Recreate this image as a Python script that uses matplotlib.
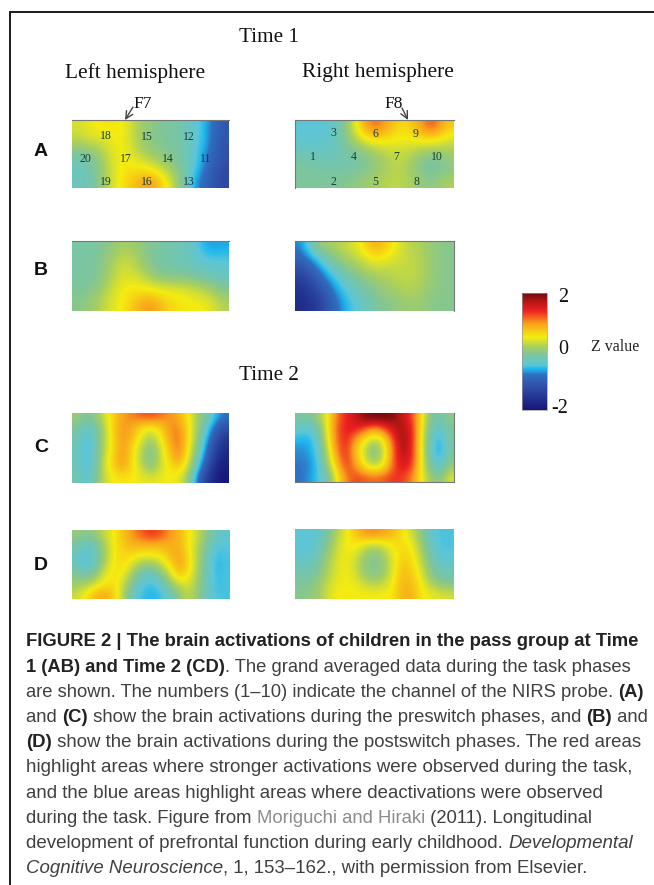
"""Brain activation maps, Time 1 and Time 2, with caption."""

import matplotlib
matplotlib.use('Agg')
import matplotlib.pyplot as plt
from matplotlib.colors import LinearSegmentedColormap, Normalize
from matplotlib.cm import ScalarMappable
from matplotlib.lines import Line2D

W, H = 654, 885

# z values, rows top to bottom, columns left to right
a_left = [
    [0.35, 0.50, 0.55, 0.55, 0.20, 0.00, -0.10, -0.20, -0.35, -0.65, -1.10],
    [0.25, 0.35, 0.40, 0.55, 0.20, -0.05, -0.10, -0.15, -0.35, -0.65, -1.15],
    [-0.15, -0.05, 0.30, 0.55, 0.30, 0.10, -0.05, -0.15, -0.40, -0.75, -1.20],
    [-0.30, -0.20, 0.25, 0.55, 0.55, 0.45, 0.20, -0.05, -0.40, -0.85, -1.25],
    [-0.30, -0.20, 0.25, 0.55, 0.80, 1.05, 0.60, 0.05, -0.60, -1.00, -1.30],
]
a_right = [
    [-0.45, -0.45, -0.45, -0.05, 0.70, 1.25, 0.85, 0.55, 0.85, 1.35, 0.70],
    [-0.42, -0.42, -0.40, -0.05, 0.30, 0.55, 0.50, 0.45, 0.50, 0.55, 0.35],
    [-0.25, -0.30, -0.30, -0.25, -0.10, 0.05, 0.25, 0.30, 0.10, -0.05, 0.10],
    [-0.10, -0.15, -0.20, -0.20, -0.15, 0.00, 0.20, 0.25, -0.05, -0.25, -0.05],
    [-0.10, -0.10, -0.10, -0.05, 0.05, 0.15, 0.25, 0.25, 0.10, -0.05, 0.20],
]
b_left = [
    [-0.15, -0.15, -0.05, 0.15, 0.10, -0.10, -0.15, -0.25, -0.35, -0.70, -0.65],
    [-0.15, -0.15, 0.05, 0.35, 0.20, -0.10, -0.20, -0.25, -0.35, -0.45, -0.45],
    [-0.15, -0.15, 0.10, 0.40, 0.35, 0.10, -0.10, -0.10, -0.15, -0.25, -0.35],
    [-0.10, -0.05, 0.25, 0.50, 0.55, 0.50, 0.45, 0.45, 0.35, 0.20, -0.05],
    [-0.05, 0.10, 0.35, 0.50, 0.80, 1.05, 0.70, 0.55, 0.50, 0.50, 0.20],
]
b_right = [
    [-0.75, 0.05, 0.15, 0.30, 0.45, 0.95, 0.65, 0.30, 0.20, 0.05, -0.05],
    [-1.00, -0.65, -0.15, 0.10, 0.25, 0.45, 0.35, 0.30, 0.25, 0.05, -0.05],
    [-1.40, -0.95, -0.55, -0.25, 0.00, 0.15, 0.20, 0.30, 0.25, 0.05, -0.05],
    [-1.60, -1.30, -0.80, -0.45, -0.25, -0.05, 0.10, 0.20, 0.20, 0.00, -0.05],
    [-1.70, -1.50, -1.00, -0.60, -0.40, -0.15, -0.05, 0.05, 0.10, -0.05, -0.05],
]
c_left = [
    [0.10, -0.10, 0.00, 0.35, 0.65, 0.95, 1.05, 1.20, 1.25, 1.15, 1.00, 0.90, 0.55, 0.15, -0.10, -0.55, -0.80],
    [-0.10, -0.35, -0.20, 0.20, 0.70, 1.00, 0.90, 0.60, 0.50, 0.60, 1.00, 1.05, 0.65, 0.15, -0.35, -0.85, -1.20],
    [-0.20, -0.50, -0.30, 0.20, 0.65, 1.00, 0.80, 0.45, 0.15, 0.45, 0.90, 1.15, 0.65, 0.10, -0.50, -1.10, -1.50],
    [-0.25, -0.55, -0.30, 0.25, 0.60, 1.00, 0.65, 0.25, -0.10, 0.30, 0.75, 1.15, 0.60, 0.00, -0.70, -1.30, -1.70],
    [-0.25, -0.55, -0.30, 0.30, 0.70, 1.00, 0.60, 0.20, -0.15, 0.25, 0.65, 1.05, 0.50, -0.15, -0.85, -1.50, -1.80],
    [-0.25, -0.50, -0.25, 0.35, 0.65, 0.90, 0.60, 0.30, 0.00, 0.30, 0.55, 0.65, 0.35, -0.40, -1.10, -1.70, -1.90],
    [-0.20, -0.45, -0.15, 0.30, 0.50, 0.55, 0.50, 0.45, 0.40, 0.45, 0.50, 0.45, 0.10, -0.70, -1.40, -1.80, -2.00],
]
c_right = [
    [-0.10, -0.15, 0.10, 0.50, 1.10, 1.40, 1.60, 1.95, 2.00, 2.00, 1.95, 1.60, 1.30, 0.60, -0.10, -0.20, 0.00],
    [-0.35, -0.40, -0.15, 0.50, 1.20, 1.45, 1.50, 1.25, 1.00, 1.25, 1.60, 1.80, 1.40, 0.55, -0.20, -0.40, -0.10],
    [-0.55, -0.60, -0.30, 0.45, 1.15, 1.45, 1.00, 0.60, 0.35, 0.60, 1.30, 1.85, 1.45, 0.50, -0.30, -0.60, -0.15],
    [-0.70, -0.65, -0.40, 0.30, 1.10, 1.40, 0.75, 0.30, -0.10, 0.35, 1.10, 1.85, 1.40, 0.50, -0.35, -0.70, -0.15],
    [-0.75, -0.70, -0.45, 0.20, 0.95, 1.40, 0.80, 0.30, -0.10, 0.35, 1.15, 1.70, 1.40, 0.50, -0.30, -0.60, -0.10],
    [-0.80, -0.75, -0.50, 0.00, 0.75, 1.30, 1.00, 0.55, 0.35, 0.55, 1.20, 1.50, 1.30, 0.50, -0.15, -0.40, 0.10],
    [-0.80, -0.70, -0.50, -0.20, 0.50, 1.05, 1.30, 1.20, 1.15, 1.20, 1.35, 1.30, 1.05, 0.50, 0.10, -0.10, 0.40],
]
d_left = [
    [0.05, -0.05, 0.05, 0.30, 0.50, 0.75, 1.00, 1.20, 1.35, 1.25, 1.00, 0.85, 0.55, 0.30, 0.00, -0.30, -0.40],
    [-0.15, -0.35, -0.25, 0.15, 0.50, 0.70, 0.85, 0.85, 0.85, 0.85, 0.85, 0.85, 0.55, 0.25, -0.10, -0.45, -0.45],
    [-0.30, -0.50, -0.30, 0.10, 0.50, 0.65, 0.60, 0.50, 0.50, 0.55, 0.80, 0.95, 0.60, 0.20, -0.20, -0.55, -0.50],
    [-0.30, -0.50, -0.30, 0.20, 0.55, 0.60, 0.35, 0.10, 0.05, 0.25, 0.55, 0.95, 0.65, 0.20, -0.25, -0.60, -0.50],
    [-0.05, -0.20, 0.00, 0.40, 0.55, 0.50, 0.10, -0.25, -0.35, -0.10, 0.30, 0.75, 0.55, 0.15, -0.30, -0.55, -0.50],
    [0.10, 0.15, 0.35, 0.55, 0.60, 0.30, -0.10, -0.45, -0.55, -0.40, 0.00, 0.30, 0.40, 0.10, -0.30, -0.55, -0.50],
    [0.30, 0.55, 0.80, 0.90, 0.70, 0.20, -0.30, -0.55, -0.60, -0.55, -0.35, 0.00, 0.30, 0.05, -0.30, -0.50, -0.50],
]
d_right = [
    [-0.45, -0.45, -0.40, -0.15, 0.20, 0.45, 0.75, 1.00, 1.05, 0.95, 0.80, 0.55, 0.30, 0.00, -0.40, -0.50, -0.50],
    [-0.45, -0.45, -0.35, -0.05, 0.30, 0.50, 0.55, 0.40, 0.30, 0.40, 0.55, 0.60, 0.50, 0.10, -0.30, -0.50, -0.50],
    [-0.40, -0.40, -0.25, 0.05, 0.35, 0.50, 0.40, 0.10, -0.05, 0.15, 0.45, 0.65, 0.55, 0.20, -0.20, -0.45, -0.45],
    [-0.30, -0.30, -0.15, 0.15, 0.40, 0.50, 0.30, 0.00, -0.10, 0.05, 0.40, 0.75, 0.65, 0.30, -0.10, -0.35, -0.35],
    [-0.20, -0.20, -0.05, 0.20, 0.40, 0.50, 0.35, 0.05, -0.05, 0.10, 0.45, 0.80, 0.70, 0.40, 0.00, -0.20, -0.25],
    [-0.10, -0.10, 0.05, 0.30, 0.45, 0.50, 0.45, 0.30, 0.20, 0.30, 0.50, 0.85, 0.80, 0.50, 0.20, 0.00, -0.05],
    [-0.05, 0.00, 0.10, 0.35, 0.50, 0.50, 0.50, 0.50, 0.50, 0.50, 0.55, 0.85, 0.85, 0.55, 0.45, 0.40, 0.35],
]

left_channels = ['18', '15', '12', '20', '17', '14', '11', '19', '16', '13']
right_channels = ['3', '6', '9', '1', '4', '7', '10', '2', '5', '8']
cbar_tick_labels = ['2', '0', '-2']

# caption lines: (text, style) runs
caption = [
    [('FIGURE 2 | The brain activations of children in the pass group at Time', 'b')],
    [('1 (AB) and Time 2 (CD)', 'b'), ('. The grand averaged data during the task phases', 'r')],
    [('are shown. The numbers (1–10) indicate the channel of the NIRS probe. ', 'r'), ('(A)', 'b')],
    [('and ', 'r'), ('(C)', 'b'), (' show the brain activations during the preswitch phases, and ', 'r'), ('(B)', 'b'), (' and', 'r')],
    [('(D)', 'b'), (' show the brain activations during the postswitch phases. The red areas', 'r')],
    [('highlight areas where stronger activations were observed during the task,', 'r')],
    [('and the blue areas highlight areas where deactivations were observed', 'r')],
    [('during the task. Figure from ', 'r'), ('Moriguchi and Hiraki', 'g'), (' (2011). Longitudinal', 'r')],
    [('development of prefrontal function during early childhood. ', 'r'), ('Developmental', 'i')],
    [('Cognitive Neuroscience', 'i'), (', 1, 153–162., with permission from Elsevier.', 'r')],
]
caption_right = [640, 632, 644, 650, 643, 632, 602, 592, 633, 587]

cmap = LinearSegmentedColormap.from_list('zvalue', [
    (0.000, '#16167a'), (0.200, '#2f4fa8'), (0.300, '#2f6fc0'), (0.350, '#1fb8ef'),
    (0.385, '#5cc6d8'), (0.475, '#7fc59a'), (0.540, '#a8cf60'), (0.625, '#f5ec10'),
    (0.740, '#f9a01c'), (0.850, '#ee2020'), (0.930, '#b51515'), (1.000, '#6e0d0d'),
])
norm = Normalize(-2, 2)

plt.rcParams['font.family'] = 'Liberation Serif'
fig = plt.figure(figsize=(W / 100, H / 100), dpi=100)


def add_px_axes(x0, y0, x1, y1):
    return fig.add_axes([x0 / W, 1 - y1 / H, (x1 - x0) / W, (y1 - y0) / H])


def px_text(x, y, s, **kw):
    kw.setdefault('va', 'center')
    kw.setdefault('ha', 'center')
    return fig.text(x / W, 1 - y / H, s, **kw)


def heat_panel(z, x0, y0, x1, y1, line=None):
    ax = add_px_axes(x0, y0, x1, y1)
    ax.imshow(z, cmap=cmap, norm=norm, aspect='auto', interpolation='bicubic')
    ax.set_xticks([])
    ax.set_yticks([])
    for name, sp in ax.spines.items():
        sp.set_visible(line is not None and name in line)
        sp.set_color('#777777')
        sp.set_linewidth(0.8)
    return ax


# frame of the figure box
fig.add_artist(Line2D([10 / W, 10 / W], [0, 1 - 11 / H], color='#231f20', lw=1.44, solid_capstyle='butt'))
fig.add_artist(Line2D([9 / W, 1], [1 - 12 / H, 1 - 12 / H], color='#231f20', lw=1.44, solid_capstyle='butt'))

heat_panel(a_left, 72, 120, 229, 188, line=['top'])
heat_panel(a_right, 295, 120, 454, 188, line=['top', 'left'])
heat_panel(b_left, 72, 241, 229, 311, line=['top'])
heat_panel(b_right, 295, 241, 454, 311, line=['top', 'right'])
heat_panel(c_left, 72, 413, 229, 483)
heat_panel(c_right, 295, 413, 454, 482, line=['bottom', 'right'])
heat_panel(d_left, 72, 530, 230, 599)
heat_panel(d_right, 295, 529, 454, 599)

# channel numbers
left_xy = [(106, 135), (147, 136), (189, 136), (85, 158), (126, 158),
           (168, 158), (206, 158), (106, 181), (147, 181), (189, 181)]
right_xy = [(333, 132), (375, 133), (416, 133), (313, 156), (354, 156),
            (396, 156), (437, 156), (333, 181), (375, 181), (416, 181)]
for s, (x, y) in zip(left_channels + right_channels, left_xy + right_xy):
    px_text(x, y + 1, s, fontsize=8.5, color='#16403a')

# headings
px_text(269, 38, 'Time 1', fontsize=15.2, color='#111111')
px_text(135, 73, 'Left hemisphere', fontsize=15.4, color='#111111')
px_text(378, 73, 'Right hemisphere', fontsize=15.4, color='#111111')
px_text(269, 375, 'Time 2', fontsize=15.2, color='#111111')
px_text(143, 104, 'F7', fontsize=12.5, color='#111111')
px_text(394, 104, 'F8', fontsize=12.5, color='#111111')

for s, y in zip('ABCD', [151, 270, 447, 565]):
    px_text(41, y, s, fontsize=14, fontweight='bold', family='Liberation Sans', color='#111111')

# probe position arrows
fig_ax = fig.add_axes([0, 0, 1, 1], facecolor='none')
fig_ax.set_xlim(0, W)
fig_ax.set_ylim(H, 0)
fig_ax.axis('off')
fig_ax.annotate('', xy=(125, 120), xytext=(133, 107),
                arrowprops=dict(arrowstyle='->', color='#444444', lw=1, mutation_scale=13,
                                shrinkA=0, shrinkB=0))
fig_ax.annotate('', xy=(408, 120), xytext=(402, 108),
                arrowprops=dict(arrowstyle='->', color='#444444', lw=1, mutation_scale=13,
                                shrinkA=0, shrinkB=0))

# colour bar
cax = add_px_axes(522, 293, 547, 410)
cb = fig.colorbar(ScalarMappable(norm=norm, cmap=cmap), cax=cax)
cb.ax.set_yticks([])
cb.outline.set_edgecolor('#999999')
cb.outline.set_linewidth(0.5)
for s, y in zip(cbar_tick_labels, [297, 350, 408]):
    px_text(568, y, s, fontsize=14.5, color='#111111', ha='right')
px_text(615, 347, 'Z value', fontsize=11.5, color='#222222')

# caption, one run after another, each line sized to its measured right end
styles = {
    'r': dict(color='#404040'),
    'b': dict(color='#222222', fontweight='bold'),
    'g': dict(color='#8c8c8c'),
    'i': dict(color='#404040', fontstyle='italic'),
}
renderer = fig.canvas.get_renderer()


def draw_run(x, y, s, st, size):
    return fig.text(x / W, 1 - y / H, s, family='Liberation Sans', fontsize=size,
                    va='center', ha='left', **styles[st])


for i, (runs, right) in enumerate(zip(caption, caption_right)):
    x0 = 26
    y = 642 + i * 25.2
    width = 0
    for s, st in runs:
        t = draw_run(x0, y, s, st, 13.4)
        width += t.get_window_extent(renderer).width
        t.remove()
    size = 13.4 * (right - x0) / width
    x = x0
    for s, st in runs:
        x += draw_run(x, y, s, st, size).get_window_extent(renderer).width

fig.savefig('out.png', dpi=100)
